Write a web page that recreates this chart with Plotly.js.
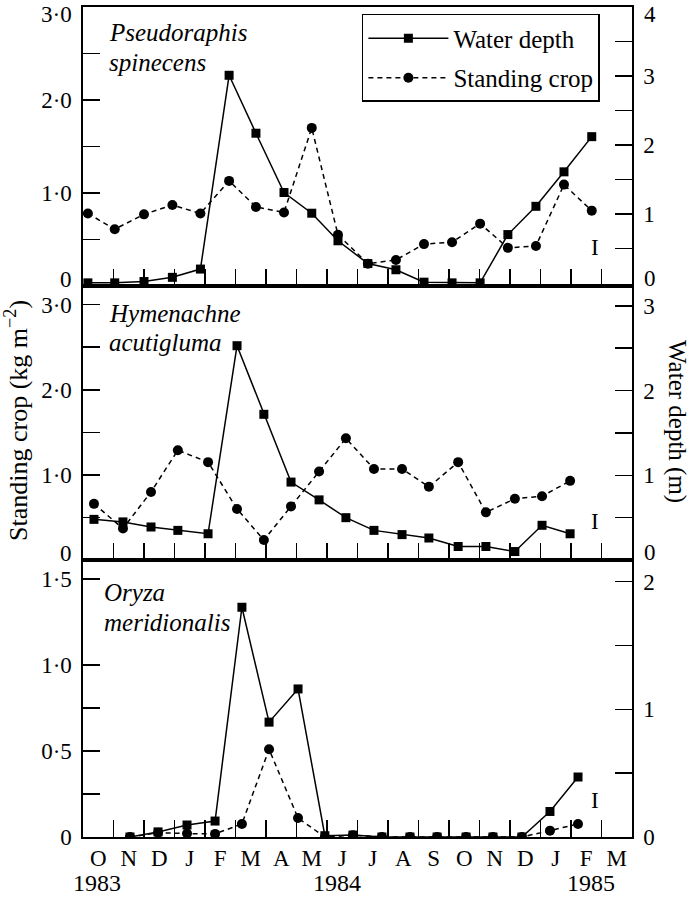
<!DOCTYPE html>
<html>
<head>
<meta charset="utf-8">
<script src="https://cdn.plot.ly/plotly-3.0.1.min.js"></script>
<style>html,body{margin:0;padding:0;background:#fff;}#chart{width:696px;height:899px;}</style>
</head>
<body>
<div id="chart"></div>
<script>
// Month axis: value = months since 1 October 1983
const monthLabels = ['O','N','D','J','F','M','A','M','J','J','A','S','O','N','D','J','F','M'];
const yearLabels = ['1983','1984','1985'];

// Pseudoraphis spinecens
const psMonth = [0.16,1.04,2.0,2.93,3.85,4.79,5.67,6.59,7.5,8.36,9.34,10.26,11.18,12.1,13.02,13.93,14.85,15.77,16.68];
const psDepth = [0,0,0.02,0.08,0.2,3.01,2.17,1.31,1.01,0.61,0.28,0.19,0.01,0,0,0.70,1.11,1.61,2.12];
const psCrop  = [0.78,0.61,0.77,0.87,0.78,1.13,0.85,0.79,1.70,0.55,0.24,0.28,0.45,0.47,0.67,0.41,0.43,1.09,0.81];

// Hymenachne acutigluma
const hyMonth = [0.36,1.31,2.23,3.11,4.10,5.05,5.93,6.82,7.74,8.62,9.54,10.46,11.34,12.30,13.21,14.16,15.05,15.97];
const hyDepth = [0.48,0.45,0.39,0.35,0.31,2.53,1.72,0.92,0.71,0.50,0.35,0.30,0.26,0.16,0.16,0.10,0.41,0.31];
const hyCrop  = [0.66,0.37,0.80,1.29,1.15,0.60,0.235,0.63,1.04,1.43,1.07,1.07,0.86,1.15,0.56,0.72,0.75,0.93];

// Oryza meridionalis
const orMonth = [1.54,2.46,3.41,4.33,5.21,6.10,7.05,7.93,8.85,9.80,10.72,11.61,12.56,13.44,14.39,15.31,16.23];
const orDepth = [0,0.04,0.094,0.125,1.80,0.90,1.16,0.01,0.015,0,0,0,0,0,0,0.20,0.47];
const orCrop  = [0,0.025,0.02,0.018,0.076,0.51,0.11,0,0.01,0,0,0,0,0,0,0.037,0.076];

const FONT = 'Liberation Serif, Times New Roman, serif';
const BLK = '#000';
const FS = 23;   // tick labels
const FB = 25;   // legend, species

function depthTrace(x, y, xa, ya, show) {
  return {x: x, y: y, xaxis: xa, yaxis: ya, type: 'scatter', mode: 'lines+markers',
    name: 'Water depth', legendgroup: 'a', showlegend: show,
    line: {color: BLK, width: 1.5},
    marker: {symbol: 'square', size: 9, color: BLK}};
}
function cropTrace(x, y, xa, ya, show) {
  return {x: x, y: y, xaxis: xa, yaxis: ya, type: 'scatter', mode: 'lines+markers',
    name: 'Standing crop', legendgroup: 'b', showlegend: show,
    line: {color: BLK, width: 1.5, dash: '5px,4px'},
    marker: {symbol: 'circle', size: 10, color: BLK}};
}

const traces = [
  depthTrace(psMonth, psDepth, 'x3', 'y6', true),
  cropTrace(psMonth, psCrop, 'x3', 'y5', true),
  depthTrace(hyMonth, hyDepth, 'x2', 'y4', false),
  cropTrace(hyMonth, hyCrop, 'x2', 'y3', false),
  depthTrace(orMonth, orDepth, 'x', 'y2', false),
  cropTrace(orMonth, orCrop, 'x', 'y', false)
];

const boundaries = []; for (let i = 1; i < 18; i++) boundaries.push(i);
const centers = monthLabels.map((m, i) => i + 0.5);

function xAxis(anchor, labels) {
  return {
    anchor: anchor, domain: [0, 1], range: [0, 18], fixedrange: true,
    showline: true, mirror: true, linecolor: BLK, linewidth: 1.6,
    showgrid: false, zeroline: false,
    tickmode: 'array', tickvals: centers, ticktext: monthLabels,
    ticks: '', showticklabels: labels,
    tickfont: {family: FONT, size: FS, color: BLK},
    minor: {tickmode: 'array', tickvals: boundaries, ticks: 'inside', ticklen: 17, tickwidth: 1.5, tickcolor: BLK, showgrid: false}
  };
}
// labelled ticks = vals/text, unlabelled ticks = minorVals
function yAxis(anchor, domain, range, vals, text, minorVals, side, overlay) {
  const a = {
    anchor: anchor, domain: domain, range: range, fixedrange: true,
    showline: true, linecolor: BLK, linewidth: 1.6,
    showgrid: false, zeroline: false,
    tickmode: 'array', tickvals: vals, ticktext: text,
    ticks: 'inside', ticklen: 17, tickwidth: 1.5, tickcolor: BLK,
    tickfont: {family: FONT, size: FS, color: BLK},
    ticklabelstandoff: 5,
    minor: {tickmode: 'array', tickvals: minorVals, ticks: 'inside', ticklen: 17, tickwidth: 1.5, tickcolor: BLK, showgrid: false},
    side: side
  };
  if (overlay) a.overlaying = overlay;
  return a;
}

const d3 = [0, 0.3337], d2 = [0.3337, 0.6639], d1 = [0.6639, 1];

function pyc(px) { return (837 - px) / 830; }
function sideLabel(side, px, text, anchorY) {
  return {xref: 'paper', yref: 'paper', x: side === 'left' ? -9 / 549 : 1 + 10 / 549, y: pyc(px),
    xanchor: side === 'left' ? 'right' : 'left', yanchor: anchorY || 'middle', showarrow: false,
    text: text, font: {family: FONT, size: FS, color: BLK}};
}
function species(text, x, px) {
  return {xref: 'paper', yref: 'paper', x: x, y: pyc(px), xanchor: 'left', yanchor: 'middle', showarrow: false,
    text: '<i>' + text + '</i>', font: {family: FONT, size: FB, color: BLK}};
}
function glyphI(xa, ya, y) {
  return {xref: xa, yref: ya, x: 16.79, y: y, xanchor: 'center', yanchor: 'middle', showarrow: false,
    text: 'I', font: {family: FONT, size: FS, color: BLK}};
}
function year(i, x) {
  return {xref: 'x', yref: 'paper', x: x, y: pyc(898), xanchor: 'center', yanchor: 'bottom', showarrow: false,
    text: yearLabels[i], font: {family: FONT, size: 24, color: BLK}};
}

const layout = {
  width: 696, height: 899,
  margin: {l: 83, r: 64, t: 7, b: 62},
  paper_bgcolor: '#fff', plot_bgcolor: '#fff',
  font: {family: FONT, size: FS, color: BLK},
  showlegend: true,
  legend: {
    x: 0.508, y: 0.9916, xanchor: 'left', yanchor: 'top',
    bordercolor: BLK, borderwidth: 1.5, bgcolor: '#fff',
    font: {family: FONT, size: FB, color: BLK},
    traceorder: 'grouped', tracegroupgap: 4, itemwidth: 80
  },
  xaxis: xAxis('y', true),
  xaxis2: xAxis('y3', false),
  xaxis3: xAxis('y5', false),
  // Oryza
  yaxis: yAxis('x', d3, [0, 1.61], [0, 0.5, 1.0, 1.5], ['0', '0·5', '1·0', '1·5'], [0.25, 0.75], 'left'),
  yaxis2: yAxis('x', d3, [0, 2.17], [0, 1, 2], ['0', '1', '2'], [0.5, 1.5], 'right', 'y'),
  // Hymenachne
  yaxis3: yAxis('x2', d2, [0, 3.22], [1, 2, 3], ['1·0', '2·0', '3·0'], [0.5, 1.5, 2.5], 'left'),
  yaxis4: yAxis('x2', d2, [0, 3.235], [1, 2, 3], ['1', '2', '3'], [0.5, 1.5, 2.5], 'right', 'y3'),
  // Pseudoraphis
  yaxis5: yAxis('x3', d1, [0, 3.0], [1, 2], ['1·0', '2·0'], [0.5, 1.5, 2.5], 'left'),
  yaxis6: yAxis('x3', d1, [-0.045, 4.0], [1, 2, 3], ['1', '2', '3'], [0.5, 1.5, 2.5, 3.5], 'right', 'y5'),
  annotations: [
    // species names
    species('Pseudoraphis', 0.0437, 33),
    species('spinecens', 0.0437, 62),
    species('Hymenachne', 0.0437, 313),
    species('acutigluma', 0.0437, 342),
    species('Oryza', 0.034, 592),
    species('meridionalis', 0.034, 622),
    // zero labels of the upper panels (raised off the panel boundary) and top labels of the top panel
    sideLabel('left', 279, '0'), sideLabel('right', 278, '0'),
    sideLabel('left', 553, '0'), sideLabel('right', 552, '0'),
    sideLabel('left', 0, '3·0', 'top'), sideLabel('right', 0, '4', 'top'),
    // error bar glyphs
    glyphI('x3', 'y5', 0.41),
    glyphI('x2', 'y3', 0.45),
    glyphI('x', 'y', 0.215),
    // year labels
    year(0, 0.46), year(1, 8.33), year(2, 16.66),
    // axis titles
    {xref: 'paper', yref: 'paper', x: (17 - 83) / 549, y: pyc(421), xanchor: 'center', yanchor: 'middle', textangle: -90, showarrow: false,
     text: 'Standing crop (kg m<sup>−2</sup>)', font: {family: FONT, size: 26, color: BLK}},
    {xref: 'paper', yref: 'paper', x: (677 - 83) / 549, y: pyc(421), xanchor: 'center', yanchor: 'middle', textangle: 90, showarrow: false,
     text: 'Water depth (m)', font: {family: FONT, size: 25, color: BLK}}
  ]
};

Plotly.newPlot('chart', traces, layout, {displayModeBar: false, staticPlot: true});
</script>
</body>
</html>
